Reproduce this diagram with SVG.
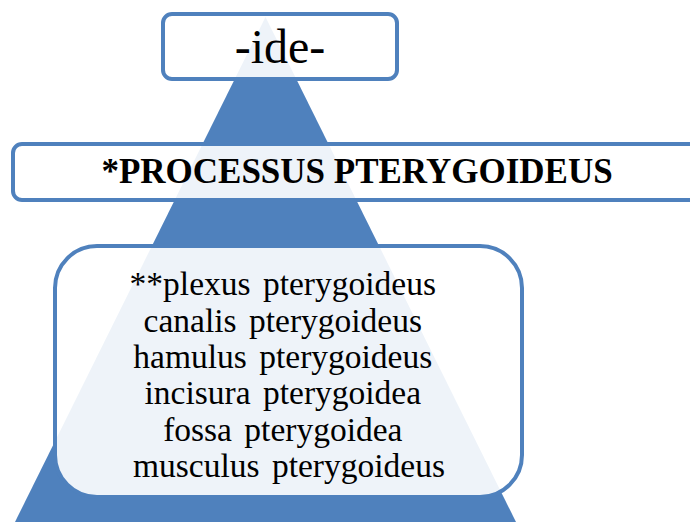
<svg xmlns="http://www.w3.org/2000/svg" width="690" height="522" viewBox="0 0 690 522">
<style>
.box{fill:#ffffff;fill-opacity:0.9;stroke:#4F81BD;stroke-width:4}
.t{font-family:"Liberation Serif","Times New Roman",serif;fill:#000;text-anchor:middle}
</style>
<rect width="690" height="522" fill="#ffffff"/>
<g id="pyramid">
<polygon points="265.5,17 14,524 517,524" fill="#4F81BD"/>
</g>
<g id="node-top">
<rect class="box" x="163" y="14" width="234" height="65" rx="9"/>
<text class="t" x="280" y="63" font-size="48">-ide-</text>
</g>
<g id="node-middle">
<rect class="box" x="13" y="144" width="700" height="56" rx="9"/>
<text class="t" x="357" y="183" font-size="35" font-weight="bold">*PROCESSUS PTERYGOIDEUS</text>
</g>
<g id="node-bottom">
<rect class="box" x="55" y="246" width="467" height="251" rx="42"/>
<text class="t" font-size="33.5" word-spacing="4">
<tspan x="289" y="295">**plexus pterygoideus</tspan>
<tspan x="289" y="331.5">canalis pterygoideus</tspan>
<tspan x="289" y="368">hamulus pterygoideus</tspan>
<tspan x="289" y="404">incisura pterygoidea</tspan>
<tspan x="289" y="440.5">fossa pterygoidea</tspan>
<tspan x="289" y="477">musculus pterygoideus</tspan>
</text>
</g>
<g id="connectors"></g>
</svg>
